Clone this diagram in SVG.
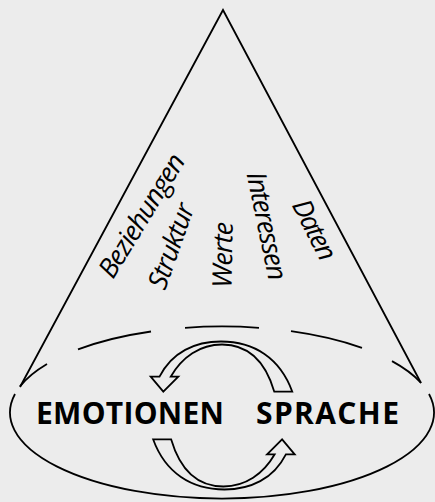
<svg xmlns="http://www.w3.org/2000/svg" width="435" height="502" viewBox="0 0 435 502">
  <style>
    .ln { fill: none; stroke: #000; stroke-width: 1.8; stroke-linecap: butt; }
    .arr { fill: #ececec; stroke: #000; stroke-width: 1.8; stroke-linejoin: miter; }
    .lbl { font-family: "Open Sans", "DejaVu Sans", sans-serif; font-style: italic; font-size: 27px; fill: #000; }
    .big { font-family: "Open Sans", "DejaVu Sans", sans-serif; font-weight: bold; font-size: 30px; fill: #000; }
  </style>
  <defs>
    <path id="arrowShape" d="M 150.7 376.7 L 163.3 391.7 L 178.3 376.7 L 170.7 376.7 C 182 357 200 344.5 222 344.5 C 247 344.5 265 360 274.3 391.7 L 292.3 391.7 C 280 358 254 341.5 221 341.5 C 195 341.5 172 352 159.5 376.7 Z"/>
  </defs>
  <rect x="0" y="0" width="435" height="502" fill="#ececec"/>

  <g id="cone">
    <path class="ln" d="M 20 387 L 223 10 L 421 383"/>
    <path class="ln" d="M 15 394 A 212 86 0 1 0 429 394"/>
    <path class="ln" d="M 20 386.4 A 212 86 0 0 1 47 364"/>
    <path class="ln" d="M 78 349.4 A 212 86 0 0 1 151 331.5"/>
    <path class="ln" d="M 185 327.8 A 212 86 0 0 1 259 327.8"/>
    <path class="ln" d="M 291 331.2 A 212 86 0 0 1 362 347.9"/>
    <path class="ln" d="M 392 361.1 A 212 86 0 0 1 421 382.8"/>
  </g>

  <g id="connectors">
    <use href="#arrowShape" class="arr"/>
    <use href="#arrowShape" class="arr" transform="rotate(180 222.7 415.5)"/>
  </g>

  <g id="node-beziehungen"><text class="lbl" transform="translate(113 280) rotate(-58.5)" textLength="140">Beziehungen</text></g>
  <g id="node-struktur"><text class="lbl" transform="translate(165 291) rotate(-70.5)" textLength="89">Struktur</text></g>
  <g id="node-werte"><text class="lbl" transform="translate(231.5 288) rotate(-89)" textLength="66">Werte</text></g>
  <g id="node-interessen"><text class="lbl" transform="translate(246.5 174) rotate(78.2)" textLength="110">Interessen</text></g>
  <g id="node-daten"><text class="lbl" transform="translate(291.5 205) rotate(63)" textLength="65">Daten</text></g>

  <g id="node-emotionen"><text class="big" x="36" y="424" textLength="188">EMOTIONEN</text></g>
  <g id="node-sprache"><text class="big" x="256" y="424" textLength="143">SPRACHE</text></g>
</svg>
